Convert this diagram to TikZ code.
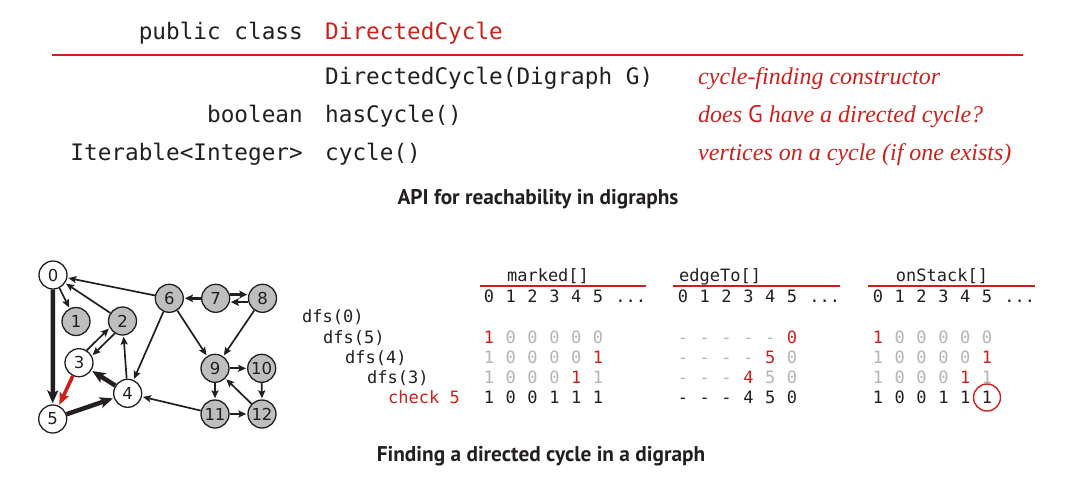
\documentclass[tikz,border=0pt]{standalone}
\usepackage{fontspec}
\setmainfont{Liberation Serif}
\newfontfamily\apimono{DejaVu Sans Mono}
\newfontfamily\capfont{PT Sans}
\newfontfamily\nodefont{DejaVu Sans}
\usetikzlibrary{arrows.meta,calc}
\definecolor{ink}{RGB}{35,31,32}
\definecolor{myred}{RGB}{205,32,28}
\definecolor{lgray}{RGB}{180,180,180}
\definecolor{nodegray}{RGB}{188,190,192}
\tikzset{
  api/.style={font=\apimono\fontsize{22.7}{26}\selectfont, text=ink, inner sep=0pt, anchor=base west},
  apir/.style={api, anchor=base east},
  desc/.style={font=\fontsize{24}{28}\selectfont\itshape, text=myred, inner sep=0pt, anchor=base west},
  tab/.style={font=\apimono\fontsize{17}{20}\selectfont, text=ink, inner sep=0pt, anchor=base},
  tabl/.style={tab, anchor=base west},
  capt/.style={font=\capfont\bfseries\fontsize{21.3}{24}\selectfont, text=ink, inner sep=0pt, anchor=base},
  vtx/.style={circle, draw=ink, line width=1.3pt, minimum size=28pt, inner sep=0pt, fill=white,
              font=\nodefont\fontsize{16.5}{19}\selectfont, text=ink},
  gv/.style={vtx, fill=nodegray},
  thinedge/.style={draw=ink, line width=1.7pt, -{Stealth[length=8pt,width=7pt,inset=1.5pt]}, shorten >=1pt},
  mededge/.style={draw=ink, line width=2.6pt, -{Stealth[length=8pt,width=7.5pt,inset=1.5pt]}, shorten >=1pt},
  thickedge/.style={draw=ink, line width=4.5pt, -{Stealth[length=13pt,width=11pt,inset=3pt]}, shorten >=1pt},
  rededge/.style={draw=myred, line width=3.6pt, -{Stealth[length=12pt,width=10pt,inset=2.5pt]}, shorten >=1pt},
  redrule/.style={draw=myred, line width=1.1pt},
  ring/.style={circle, draw=myred, line width=1.4pt, minimum size=27pt, inner sep=0pt}
}
\newcommand\tabrow[4]{%
  \foreach \t/\c [count=\i from 0] in {#4}
    \node[tab, text=\c] (#1-\i) at ({#2+21.8*\i},#3) {\t};}
\begin{document}
\begin{tikzpicture}[x=1pt,y=-1pt]
\useasboundingbox (0,0) rectangle (1090,485);
\fill[white] (0,0) rectangle (1090,485);

% ---------- API ----------
\node[apir] (pc) at (303,39) {public class};
\node[api, text=myred] (cls) at (325,39) {DirectedCycle};
\coordinate (rl) at (52,55);
\coordinate (rr) at (1023,55);
\draw[redrule] (rl) -- (rr);
\node[api] (m1) at (325,84) {DirectedCycle(Digraph G)};
\node[apir] (t2) at (303,122) {boolean};
\node[api] (m2) at (325,122) {hasCycle()};
\node[apir] (t3) at (303,160) {Iterable<Integer>};
\node[api] (m3) at (325,160) {cycle()};
\node[desc] (d1) at (698,84) {cycle-finding constructor};
\node[desc] (d2) at (698,122) {does {\upshape\capfont G} have a directed cycle?};
\node[desc] (d3) at (698,160) {vertices on a cycle (if one exists)};
\node[capt] (cap1) at (538,204) {API for reachability in digraphs};

% ---------- graph ----------
\node[vtx] (v0) at (53,275) {0};
\node[gv]  (v1) at (76,321.5) {1};
\node[gv]  (v2) at (122.5,321) {2};
\node[vtx] (v3) at (79,362.7) {3};
\node[vtx] (v4) at (127.7,393.3) {4};
\node[vtx] (v5) at (52.7,419) {5};
\node[gv]  (v6) at (169.3,298.3) {6};
\node[gv]  (v7) at (215.7,298.3) {7};
\node[gv]  (v8) at (262.5,298.3) {8};
\node[gv]  (v9) at (215,368.3) {9};
\node[gv]  (v10) at (261.7,368.3) {10};
\node[gv]  (v11) at (215,414) {11};
\node[gv]  (v12) at (262,414) {12};

\draw[thinedge] (v0) -- (v1);
\draw[thinedge] (v2) -- (v0);
\draw[thinedge] (v6) -- (v0);
\draw[thinedge] (v3.58) -- (v2.208);
\draw[thinedge] (v2.238) -- (v3.28);
\draw[thinedge] (v4) -- (v2);
\draw[thinedge] (v6) -- (v4);
\draw[thinedge] (v6) -- (v9);
\draw[thinedge] (v8) -- (v9);
\draw[thinedge] (v9) -- (v10);
\draw[thinedge] (v9) -- (v11);
\draw[thinedge] (v10) -- (v12);
\draw[thinedge] (v12) -- (v9);
\draw[thinedge] (v11) -- (v12);
\draw[thinedge] (v11) -- (v4);
\draw[mededge] (v7) -- (v6);
\draw[mededge] (v7.15) -- (v8.165);
\draw[mededge] (v8.-165) -- (v7.-15);
\draw[thickedge] (v0) -- (v5);
\draw[thickedge] (v5) -- (v4);
\draw[thickedge] (v4) -- (v3);
\draw[rededge] (v3) -- (v5);

% ---------- trace ----------
\node[tab] (hm) at (548,281) {marked[]};
\node[tabl] (he) at (679,281) {edgeTo[]};
\node[tab] (ho) at (942,281) {onStack[]};
\coordinate (ml) at (480,286); \coordinate (mr) at (646,286);
\coordinate (el) at (673,286); \coordinate (er) at (840,286);
\coordinate (ol) at (868,286); \coordinate (or) at (1035,286);
\draw[redrule] (ml) -- (mr);
\draw[redrule] (el) -- (er);
\draw[redrule] (ol) -- (or);

\tabrow{mi}{489}{302}{0/ink,1/ink,2/ink,3/ink,4/ink,5/ink}
\tabrow{ei}{683}{302}{0/ink,1/ink,2/ink,3/ink,4/ink,5/ink}
\tabrow{oi}{878}{302}{0/ink,1/ink,2/ink,3/ink,4/ink,5/ink}
\node[tab] (mdots) at (630.7,302) {...};
\node[tab] (edots) at (824.7,302) {...};
\node[tab] (odots) at (1019.7,302) {...};

\node[tabl] (c0) at (302,322) {dfs(0)};
\node[tabl] (c5) at (323,343) {dfs(5)};
\node[tabl] (c4) at (345,363) {dfs(4)};
\node[tabl] (c3) at (367,383) {dfs(3)};
\node[tabl, text=myred] (ck) at (388,403) {check 5};

\tabrow{ma}{489}{343}{1/myred,0/lgray,0/lgray,0/lgray,0/lgray,0/lgray}
\tabrow{ea}{683}{343}{-/lgray,-/lgray,-/lgray,-/lgray,-/lgray,0/myred}
\tabrow{oa}{878}{343}{1/myred,0/lgray,0/lgray,0/lgray,0/lgray,0/lgray}

\tabrow{mb}{489}{363}{1/lgray,0/lgray,0/lgray,0/lgray,0/lgray,1/myred}
\tabrow{eb}{683}{363}{-/lgray,-/lgray,-/lgray,-/lgray,5/myred,0/lgray}
\tabrow{ob}{878}{363}{1/lgray,0/lgray,0/lgray,0/lgray,0/lgray,1/myred}

\tabrow{mc}{489}{383}{1/lgray,0/lgray,0/lgray,0/lgray,1/myred,1/lgray}
\tabrow{ec}{683}{383}{-/lgray,-/lgray,-/lgray,4/myred,5/lgray,0/lgray}
\tabrow{oc}{878}{383}{1/lgray,0/lgray,0/lgray,0/lgray,1/myred,1/lgray}

\tabrow{md}{489}{403}{1/ink,0/ink,0/ink,1/ink,1/ink,1/ink}
\tabrow{ed}{683}{403}{-/ink,-/ink,-/ink,4/ink,5/ink,0/ink}
\tabrow{od}{878}{403}{1/ink,0/ink,0/ink,1/ink,1/ink,1/ink}
\node[ring] (rg) at (987,397.5) {};

\node[capt] (cap2) at (541,461) {Finding a directed cycle in a digraph};
\end{tikzpicture}
\end{document}
